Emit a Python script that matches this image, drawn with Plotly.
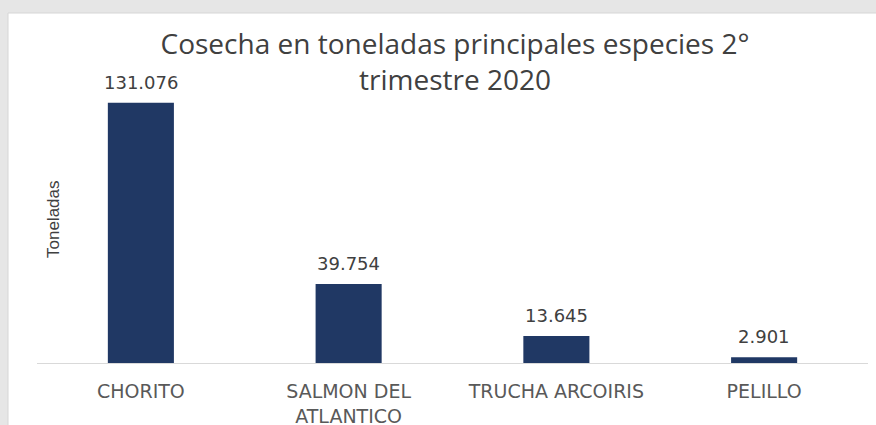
import plotly.graph_objects as go

categories = ["CHORITO", "SALMON DEL ATLANTICO", "TRUCHA ARCOIRIS", "PELILLO"]
tick_labels = ["CHORITO", "SALMON DEL<br>ATLANTICO", "TRUCHA ARCOIRIS", "PELILLO"]
values = [131076, 39754, 13645, 2901]
title_text = "Cosecha en toneladas principales especies 2°<br>trimestre 2020"
y_title = "Toneladas"

W, H = 876, 425
L, R, T, B = 37, 8, 85, 62
pw = W - L - R
ph = H - T - B

def fmt(v):
    return f"{v:,}".replace(",", ".")

fig = go.Figure()
fig.add_trace(go.Bar(
    x=categories, y=values,
    marker=dict(color="#203864", line=dict(width=0)),
    hoverinfo="skip",
))

annotations = []
for c, v in zip(categories, values):
    annotations.append(dict(
        x=c, y=v, xref="x", yref="y", text=fmt(v), showarrow=False,
        yanchor="bottom", yshift=8,
        font=dict(family="DejaVu Sans, sans-serif", size=18, color="#404040"),
    ))
annotations.append(dict(
    x=(53 - L) / pw, y=(H - B - 219) / ph, xref="paper", yref="paper",
    xanchor="center", yanchor="middle",
    text=y_title, showarrow=False, textangle=-90,
    font=dict(family="Liberation Sans Narrow, Liberation Sans, sans-serif", size=17, color="#404040"),
))

fig.update_layout(
    width=W, height=H,
    autosize=False,
    margin=dict(l=L, r=R, t=T, b=B, pad=0, autoexpand=False),
    paper_bgcolor="#e6e6e6",
    plot_bgcolor="white",
    bargap=0.682,
    showlegend=False,
    title=dict(
        text=title_text, x=455 / W, xanchor="center", xref="container",
        y=1 - 54 / H, yanchor="middle", yref="container",
        font=dict(family="Open Sans, sans-serif", size=28, color="#404040"),
        automargin=False,
    ),
    xaxis=dict(
        tickmode="array", tickvals=categories, ticktext=tick_labels,
        showline=True, linecolor="#d9d9d9", linewidth=1,
        showgrid=False, zeroline=False, ticks="",
        ticklabelstandoff=11, automargin=False,
        tickfont=dict(family="DejaVu Sans, sans-serif", size=19, color="#595959"),
    ),
    yaxis=dict(
        range=[0, 140000], showticklabels=False, showgrid=False,
        zeroline=False, showline=False, ticks="", automargin=False,
    ),
    annotations=annotations,
    shapes=[dict(
        type="rect", xref="paper", yref="paper",
        x0=(8 - L) / pw, x1=(W + 2 - L) / pw,
        y0=(H - B - (H + 2)) / ph, y1=(H - B - 13) / ph,
        fillcolor="white", line=dict(color="#d6d6d6", width=1), layer="below",
    )],
)

fig.write_html(
    "out.html",
    config={"displayModeBar": False},
    post_script="document.body.style.margin='0';document.body.style.overflow='hidden';",
)
